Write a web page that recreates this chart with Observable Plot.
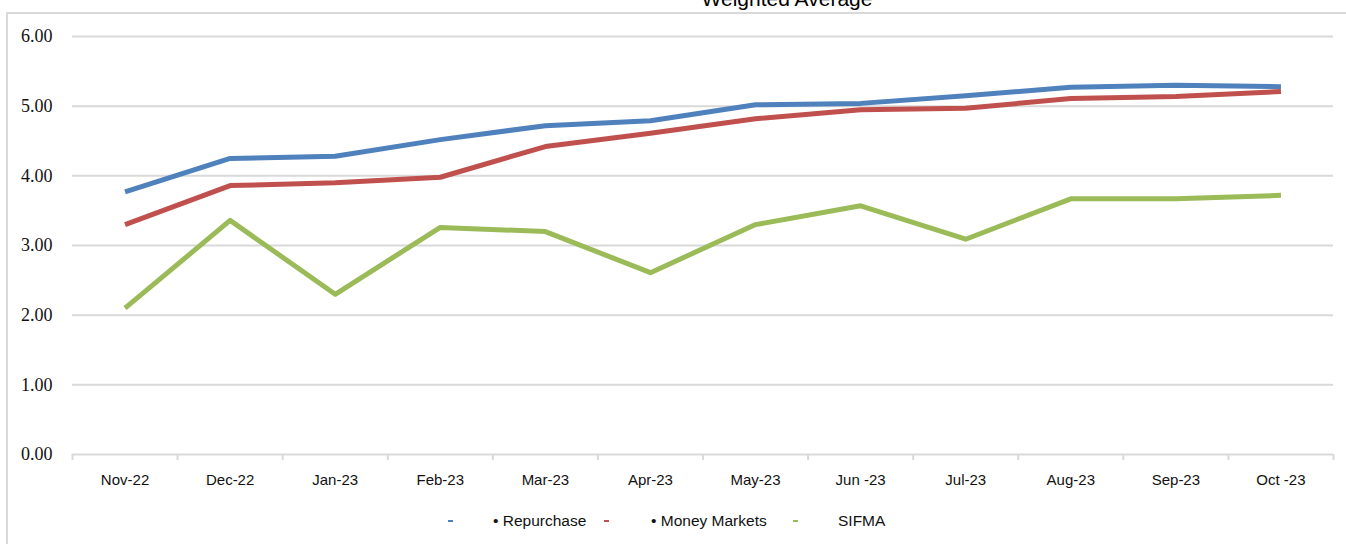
<!DOCTYPE html>
<html>
<head>
<meta charset="utf-8">
<script src="https://cdn.jsdelivr.net/npm/d3@7"></script>
<script src="https://cdn.jsdelivr.net/npm/@observablehq/plot@0.6"></script>
<style>
  html, body { margin: 0; padding: 0; background: #fff; width: 1346px; height: 544px; overflow: hidden; }
  #wrap { position: relative; width: 1346px; height: 544px; }
  #frame { position: absolute; left: 6px; top: 12px; width: 1400px; height: 600px;
           border-left: 2px solid #d9d9d9; border-top: 2px solid #d9d9d9; }
  #title { position: absolute; left: 0; width: 1574px; text-align: center; top: -12px;
           font-family: "Liberation Sans", Arial, sans-serif; font-size: 21px; line-height: 21px; color: #000; }
  #chart { position: absolute; left: 0; top: 0; }
  #legend { position: absolute; top: 510px; left: 0; width: 1346px; height: 22px;
            font-family: "Liberation Sans", Arial, sans-serif; font-size: 15.5px; color: #111; }
  .lg { position: absolute; top: 0; line-height: 22px; white-space: nowrap; }
  .sw { position: absolute; top: 10px; width: 5px; height: 2px; }
</style>
</head>
<body>
<div id="wrap">
  <div id="title">Weighted Average</div>
  <div id="frame"></div>
  <div id="chart"></div>
  <div id="legend"></div>
</div>
<script>
const months = ["Nov-22","Dec-22","Jan-23","Feb-23","Mar-23","Apr-23","May-23","Jun -23","Jul-23","Aug-23","Sep-23","Oct -23"];
const repurchase   = [3.77, 4.25, 4.28, 4.52, 4.72, 4.79, 5.02, 5.04, 5.15, 5.27, 5.30, 5.28];
const moneyMarkets = [3.30, 3.86, 3.90, 3.98, 4.42, 4.61, 4.82, 4.95, 4.97, 5.11, 5.14, 5.21];
const sifma        = [2.10, 3.36, 2.30, 3.26, 3.20, 2.61, 3.30, 3.57, 3.09, 3.67, 3.67, 3.72];
const seriesNames  = ["Repurchase", "Money Markets", "SIFMA"];
const legendLabels = ["\u2022 Repurchase", "\u2022 Money Markets", "SIFMA"];
const seriesColors = ["#4F81BD", "#C0504D", "#9BBB59"];
const yTicks = [0, 1, 2, 3, 4, 5, 6];

const seriesValues = [repurchase, moneyMarkets, sifma];
const rows = [];
seriesNames.forEach((s, k) => seriesValues[k].forEach((v, i) => rows.push({series: s, i, month: months[i], value: v})));
const idx = months.map((m, i) => i);
const bounds = months.map((m, i) => i - 0.5).concat([months.length - 0.5]);

const chart = Plot.plot({
  width: 1346,
  height: 500,
  marginLeft: 72,
  marginRight: 13,
  marginTop: 36,
  marginBottom: 46,
  x: {type: "linear", domain: [-0.5, months.length - 0.5], axis: null, label: null},
  y: {domain: [0, 6], axis: null, label: null},
  color: {domain: seriesNames, range: seriesColors},
  marks: [
    Plot.ruleY(yTicks, {stroke: "#d9d9d9", strokeWidth: 2}),
    Plot.axisY(yTicks, {tickSize: 0, tickPadding: 20, tickFormat: d => d.toFixed(2), label: null,
      fontSize: 18, fontFamily: "Liberation Serif", fill: "#111"}),
    Plot.axisX(bounds, {tickSize: 6, tickFormat: () => "", label: null, stroke: "#d9d9d9", strokeWidth: 2}),
    Plot.axisX(idx, {tickSize: 0, tickPadding: 20, tickFormat: i => months[i], label: null,
      fontSize: 15, fontFamily: "Liberation Sans", fill: "#111"}),
    Plot.line(rows, {x: "i", y: "value", z: "series", stroke: "series", strokeWidth: 5,
      strokeLinejoin: "round", strokeLinecap: "butt"})
  ]
});
document.getElementById("chart").appendChild(chart);

// legend
const legend = document.getElementById("legend");
const swX = [448, 604, 793];
const txX = [493, 651, 838];
seriesNames.forEach((s, k) => {
  const sw = document.createElement("div");
  sw.className = "sw";
  sw.style.left = swX[k] + "px";
  sw.style.background = seriesColors[k];
  legend.appendChild(sw);
  const t = document.createElement("div");
  t.className = "lg";
  t.style.left = txX[k] + "px";
  t.textContent = legendLabels[k];
  legend.appendChild(t);
});
</script>
</body>
</html>
